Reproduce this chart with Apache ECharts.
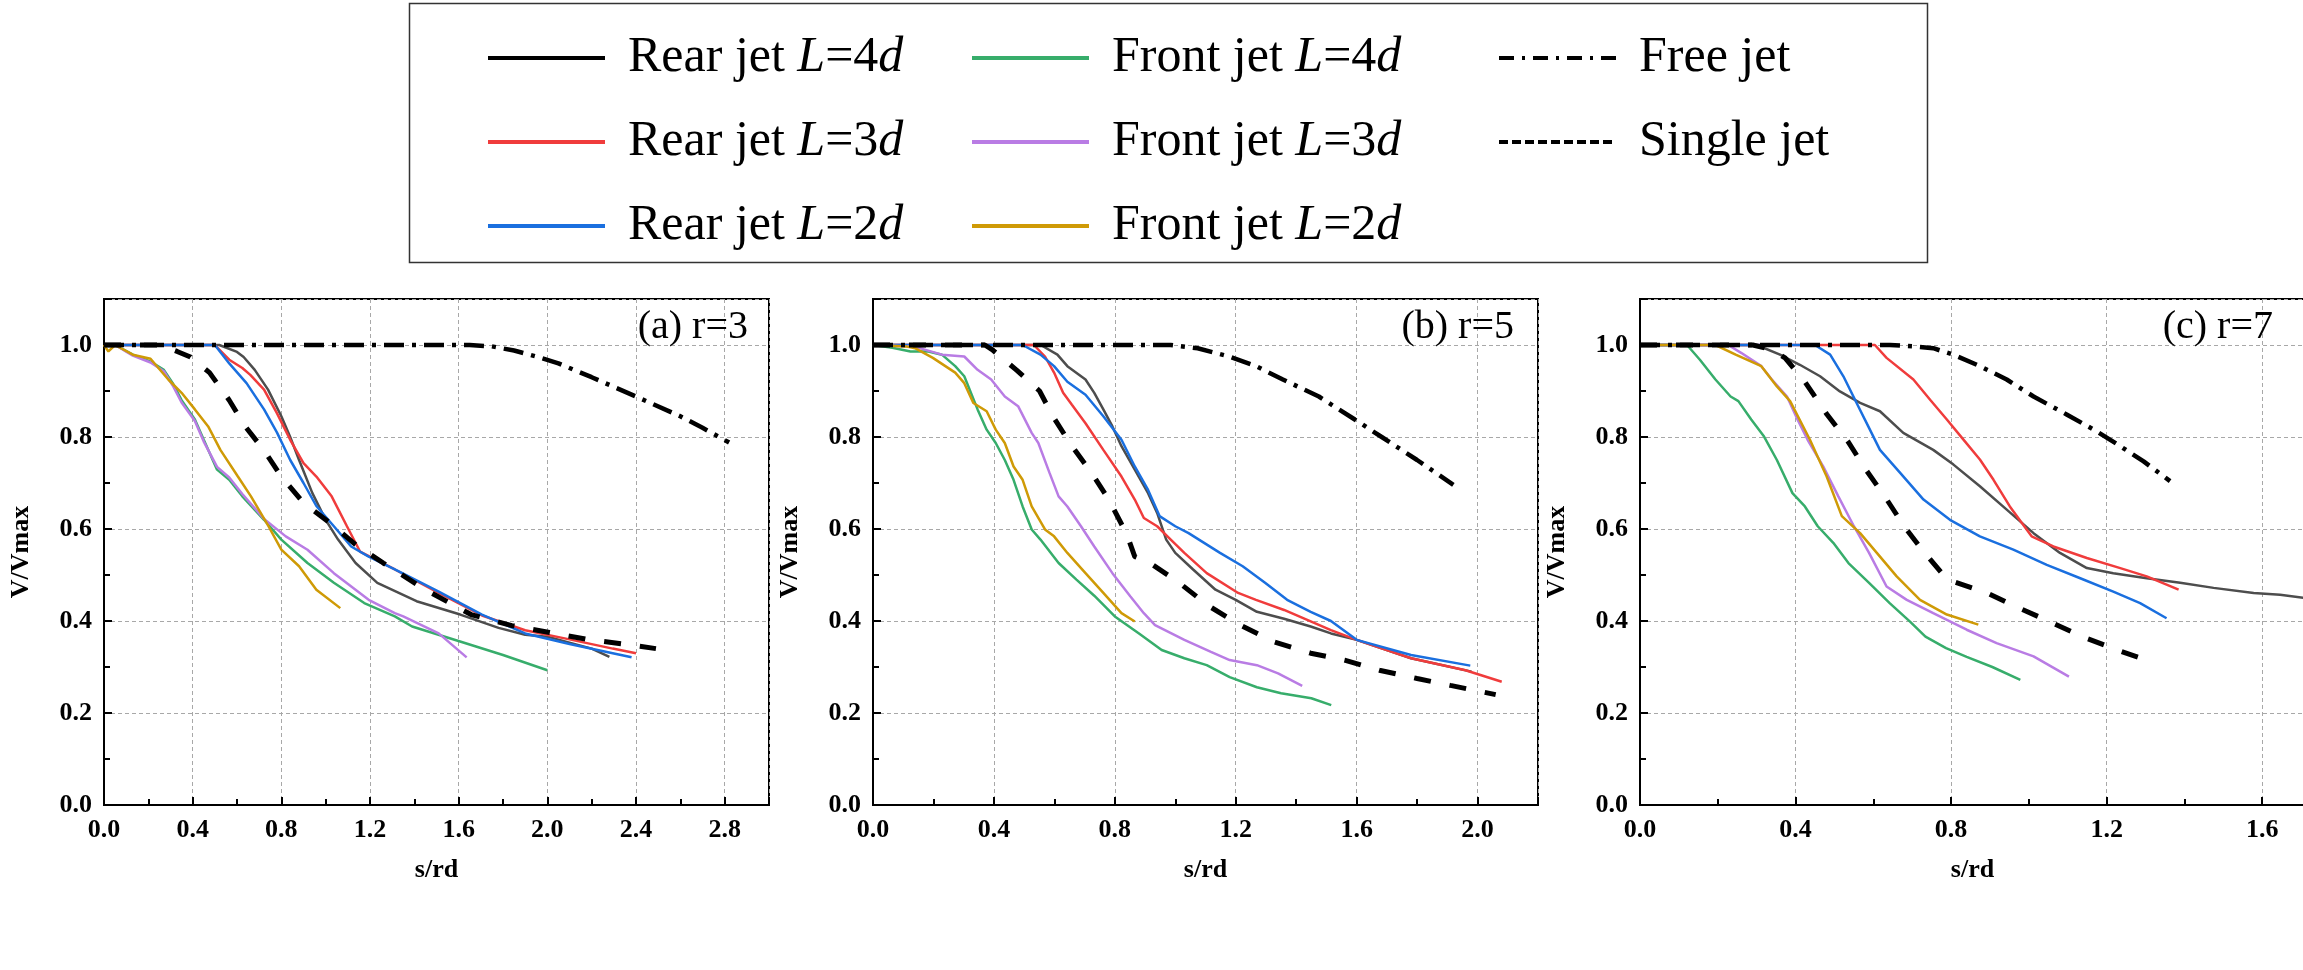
<!DOCTYPE html>
<html><head><meta charset="utf-8">
<script src="https://cdn.jsdelivr.net/npm/echarts@6/dist/echarts.min.js"></script>
<style>html,body{margin:0;padding:0;background:#fff}#c{width:2303px;height:970px}</style>
</head><body><div id="c"></div><script>
// ---- names / labels ----
const seriesNames = ['Rear jet L=4d','Rear jet L=3d','Rear jet L=2d','Front jet L=4d','Front jet L=3d','Front jet L=2d','Free jet','Single jet'];
const panelTitles = ['(a) r=3','(b) r=5','(c) r=7'];
const xMaxes = [3.0, 2.2, 1.71];
const xAxisTitle = 's/rd';
const yAxisTitle = 'V/Vmax';

// ---- panel (a) r=3 ----
const a_rear4 = [[0,1],[0.52,1],[0.6,0.985],[0.63,0.974],[0.68,0.946],[0.74,0.903],[0.80,0.845],[0.84,0.80],[0.88,0.75],[0.94,0.678],[1.0,0.62],[1.056,0.577],[1.135,0.526],[1.233,0.483],[1.41,0.443],[1.607,0.414],[1.78,0.385],[1.90,0.37],[2.0,0.366],[2.2,0.34],[2.28,0.322]];
const a_rear3 = [[0,1],[0.5,1],[0.565,0.968],[0.624,0.95],[0.66,0.935],[0.722,0.903],[0.78,0.852],[0.84,0.794],[0.90,0.743],[0.958,0.714],[1.027,0.671],[1.096,0.606],[1.155,0.551],[1.312,0.512],[1.51,0.461],[1.705,0.412],[1.90,0.38],[2.10,0.36],[2.295,0.34],[2.40,0.33]];
const a_rear2 = [[0,1],[0.5,1],[0.565,0.96],[0.643,0.917],[0.722,0.86],[0.78,0.81],[0.84,0.75],[0.90,0.70],[0.958,0.65],[1.037,0.606],[1.115,0.562],[1.194,0.54],[1.312,0.512],[1.51,0.464],[1.705,0.414],[1.90,0.373],[2.10,0.35],[2.295,0.33],[2.38,0.321]];
const a_front4 = [[0,1],[0.05,1],[0.13,0.979],[0.21,0.964],[0.27,0.946],[0.31,0.917],[0.35,0.88],[0.41,0.838],[0.45,0.794],[0.51,0.729],[0.565,0.707],[0.624,0.671],[0.722,0.62],[0.80,0.577],[0.918,0.526],[1.037,0.483],[1.174,0.439],[1.312,0.41],[1.39,0.388],[1.61,0.355],[1.80,0.326],[2.0,0.293]];
const a_front3 = [[0,1],[0.05,1],[0.13,0.977],[0.21,0.962],[0.27,0.943],[0.31,0.912],[0.35,0.875],[0.41,0.835],[0.45,0.79],[0.51,0.735],[0.565,0.712],[0.624,0.676],[0.722,0.622],[0.82,0.584],[0.918,0.555],[1.037,0.504],[1.194,0.446],[1.312,0.417],[1.35,0.41],[1.51,0.373],[1.636,0.321]];
const a_front2 = [[0,1],[0.02,0.986],[0.05,1],[0.13,0.979],[0.21,0.97],[0.29,0.925],[0.35,0.896],[0.41,0.86],[0.47,0.823],[0.525,0.772],[0.604,0.714],[0.663,0.671],[0.742,0.606],[0.80,0.555],[0.88,0.519],[0.958,0.468],[1.066,0.428]];
const a_free = [[0,1],[1.65,1],[1.75,0.997],[1.85,0.988],[1.95,0.975],[2.05,0.96],[2.2,0.93],[2.4,0.888],[2.6,0.845],[2.7,0.82],[2.82,0.788]];
const a_single = [[0,1],[0.25,1],[0.33,0.986],[0.39,0.974],[0.476,0.94],[0.565,0.88],[0.637,0.823],[0.72,0.772],[0.80,0.714],[0.90,0.657],[1.02,0.613],[1.135,0.566],[1.26,0.526],[1.45,0.468],[1.656,0.414],[1.84,0.39],[2.01,0.375],[2.18,0.36],[2.345,0.35],[2.49,0.34]];

// ---- panel (b) r=5 ----
const b_rear4 = [[0,1],[0.555,1],[0.61,0.979],[0.643,0.954],[0.703,0.925],[0.732,0.896],[0.762,0.86],[0.792,0.823],[0.822,0.78],[0.866,0.729],[0.91,0.678],[0.94,0.635],[0.97,0.577],[1.0,0.548],[1.059,0.512],[1.133,0.468],[1.2,0.446],[1.27,0.42],[1.36,0.405],[1.448,0.388],[1.515,0.373],[1.6,0.359],[1.78,0.319],[1.98,0.29]];
const b_rear3 = [[0,1],[0.532,1],[0.569,0.975],[0.599,0.94],[0.629,0.896],[0.658,0.87],[0.703,0.83],[0.762,0.772],[0.822,0.714],[0.866,0.664],[0.896,0.624],[0.94,0.606],[0.985,0.577],[1.03,0.548],[1.104,0.504],[1.208,0.461],[1.267,0.446],[1.36,0.424],[1.515,0.38],[1.6,0.359],[1.78,0.319],[1.96,0.293],[2.08,0.268]];
const b_rear2 = [[0,1],[0.495,1],[0.554,0.979],[0.599,0.954],[0.643,0.92],[0.703,0.892],[0.762,0.845],[0.822,0.794],[0.866,0.736],[0.91,0.685],[0.948,0.628],[1.0,0.606],[1.044,0.591],[1.148,0.548],[1.223,0.519],[1.297,0.483],[1.37,0.446],[1.448,0.42],[1.515,0.40],[1.6,0.359],[1.78,0.326],[1.976,0.303]];
const b_front4 = [[0,1],[0.064,0.994],[0.124,0.986],[0.183,0.986],[0.228,0.979],[0.272,0.954],[0.302,0.932],[0.346,0.86],[0.376,0.816],[0.406,0.787],[0.436,0.75],[0.465,0.707],[0.495,0.649],[0.525,0.599],[0.554,0.577],[0.614,0.526],[0.673,0.49],[0.732,0.455],[0.80,0.41],[0.88,0.373],[0.955,0.337],[1.03,0.319],[1.104,0.304],[1.18,0.278],[1.27,0.256],[1.35,0.243],[1.45,0.232],[1.516,0.217]];
const b_front3 = [[0,1],[0.14,0.996],[0.228,0.979],[0.302,0.975],[0.346,0.946],[0.391,0.925],[0.436,0.888],[0.48,0.867],[0.525,0.809],[0.547,0.787],[0.584,0.722],[0.614,0.671],[0.643,0.649],[0.688,0.606],[0.732,0.562],[0.792,0.504],[0.851,0.454],[0.896,0.417],[0.933,0.391],[1.03,0.359],[1.118,0.333],[1.18,0.315],[1.27,0.304],[1.34,0.286],[1.42,0.259]];
const b_front2 = [[0,1],[0.109,0.997],[0.139,0.993],[0.198,0.972],[0.272,0.94],[0.302,0.917],[0.332,0.874],[0.376,0.856],[0.406,0.816],[0.436,0.787],[0.465,0.736],[0.495,0.707],[0.525,0.649],[0.569,0.599],[0.599,0.584],[0.643,0.548],[0.703,0.504],[0.762,0.461],[0.822,0.417],[0.866,0.399]];
const b_free = [[0,1],[0.985,1],[1.074,0.993],[1.178,0.975],[1.267,0.954],[1.356,0.925],[1.475,0.888],[1.594,0.838],[1.683,0.80],[1.80,0.75],[1.92,0.696]];
const b_single = [[0,1],[0.37,1],[0.394,0.99],[0.476,0.945],[0.551,0.90],[0.595,0.845],[0.655,0.783],[0.725,0.72],[0.78,0.664],[0.84,0.588],[0.866,0.54],[0.907,0.53],[1.007,0.486],[1.11,0.433],[1.21,0.393],[1.325,0.355],[1.448,0.33],[1.56,0.315],[1.675,0.293],[1.8,0.275],[1.91,0.26],[2.06,0.24]];

// ---- panel (c) r=7 ----
const c_rear4 = [[0,1],[0.30,1],[0.36,0.979],[0.411,0.957],[0.463,0.932],[0.514,0.899],[0.566,0.874],[0.617,0.856],[0.677,0.809],[0.754,0.772],[0.806,0.74],[0.874,0.693],[0.943,0.642],[1.012,0.591],[1.08,0.548],[1.149,0.515],[1.217,0.504],[1.303,0.493],[1.389,0.483],[1.475,0.472],[1.578,0.461],[1.646,0.457],[1.71,0.45]];
const c_rear3 = [[0,1],[0.604,1],[0.634,0.972],[0.703,0.925],[0.746,0.881],[0.789,0.838],[0.828,0.798],[0.874,0.751],[0.909,0.707],[0.951,0.649],[0.982,0.613],[1.007,0.584],[1.063,0.562],[1.149,0.537],[1.235,0.515],[1.303,0.497],[1.385,0.468]];
const c_rear2 = [[0,1],[0.45,1],[0.489,0.979],[0.523,0.932],[0.557,0.874],[0.587,0.823],[0.617,0.772],[0.669,0.722],[0.729,0.664],[0.797,0.62],[0.874,0.584],[0.96,0.555],[1.046,0.522],[1.132,0.493],[1.217,0.464],[1.286,0.439],[1.354,0.406]];
const c_front4 = [[0,1],[0.121,1],[0.154,0.968],[0.194,0.925],[0.233,0.888],[0.253,0.878],[0.286,0.838],[0.319,0.801],[0.352,0.75],[0.392,0.678],[0.424,0.649],[0.457,0.606],[0.497,0.57],[0.536,0.526],[0.589,0.483],[0.642,0.439],[0.695,0.398],[0.734,0.366],[0.787,0.341],[0.84,0.322],[0.906,0.30],[0.978,0.272]];
const c_front3 = [[0,1],[0.227,1],[0.26,0.983],[0.312,0.954],[0.339,0.925],[0.378,0.888],[0.405,0.838],[0.431,0.794],[0.471,0.736],[0.51,0.671],[0.55,0.606],[0.589,0.548],[0.634,0.475],[0.686,0.446],[0.754,0.417],[0.84,0.381],[0.917,0.352],[1.012,0.323],[1.103,0.279]];
const c_front2 = [[0,1],[0.194,1],[0.246,0.979],[0.312,0.954],[0.352,0.91],[0.386,0.878],[0.437,0.794],[0.48,0.714],[0.519,0.628],[0.566,0.591],[0.609,0.548],[0.66,0.497],[0.72,0.446],[0.789,0.414],[0.87,0.392]];
const c_free = [[0,1],[0.643,1],[0.703,0.997],[0.754,0.993],[0.806,0.979],[0.874,0.954],[0.943,0.925],[1.012,0.888],[1.097,0.849],[1.175,0.812],[1.235,0.78],[1.295,0.747],[1.363,0.704]];
const c_single = [[0,1],[0.29,1],[0.339,0.99],[0.373,0.972],[0.424,0.92],[0.48,0.85],[0.535,0.79],[0.58,0.73],[0.63,0.67],[0.68,0.605],[0.73,0.55],[0.79,0.49],[0.89,0.462],[0.97,0.43],[1.05,0.40],[1.14,0.365],[1.23,0.336],[1.32,0.31]];

const panelData = [
  [a_rear4,a_rear3,a_rear2,a_front4,a_front3,a_front2,a_free,a_single],
  [b_rear4,b_rear3,b_rear2,b_front4,b_front3,b_front2,b_free,b_single],
  [c_rear4,c_rear3,c_rear2,c_front4,c_front3,c_front2,c_free,c_single]
];

// ---- styles ----
const F = '"Liberation Serif","Times New Roman",serif';
const colors = ['#4D4D4D','#F03C3C','#1A6FDF','#37AD6B','#B97CE4','#CF9A06','#000','#000'];
const lineTypes = ['solid','solid','solid','solid','solid','solid',[20,8,4,8],[17,19]];
const lineWidths = [2.5,2.5,2.5,2.5,2.5,2.5,4.5,5];
const gridLefts = [104, 873, 1640];
const gridTop = 299, gridH = 506, gridW = 665;

const grids = [], xAxes = [], yAxes = [], series = [];
for (let p = 0; p < 3; p++) {
  grids.push({left: gridLefts[p], top: gridTop, width: gridW, height: gridH, show: true,
    borderColor: '#000', borderWidth: 2, backgroundColor: 'transparent', containLabel: false, outerBoundsMode: 'none'});
  const common = {
    gridIndex: p, type: 'value', min: 0, nameLocation: 'middle',
    nameTextStyle: {fontFamily: F, fontWeight: 'bold', fontSize: 26, color: '#000'},
    axisLine: {show: true, onZero: false, lineStyle: {color: '#000', width: 2}},
    axisTick: {show: true, inside: true, length: 8, lineStyle: {color: '#000', width: 2}},
    minorTick: {show: true, splitNumber: 2, length: 6, lineStyle: {color: '#000', width: 2}},
    axisLabel: {fontFamily: F, fontWeight: 'bold', fontSize: 26, color: '#000', margin: 12,
      showMaxLabel: false, formatter: v => v.toFixed(1)},
    splitLine: {show: true, lineStyle: {color: '#a8a8a8', type: [4, 3], width: 1}},
    minorSplitLine: {show: false}
  };
  xAxes.push(Object.assign({}, common, {max: xMaxes[p], interval: 0.4, name: xAxisTitle, nameGap: 52, position: 'bottom'}));
  yAxes.push(Object.assign({}, common, {max: 1.1, interval: 0.2, name: yAxisTitle, nameGap: 70, position: 'left'}));
  for (let s = 0; s < 8; s++) {
    series.push({
      name: seriesNames[s], type: 'line', xAxisIndex: p, yAxisIndex: p,
      data: panelData[p][s], symbol: 'none', showSymbol: false, smooth: false,
      color: colors[s],
      lineStyle: {color: colors[s], width: lineWidths[s], type: lineTypes[s]},
      emphasis: {disabled: true}, z: s >= 6 ? 3 : 2
    });
  }
}

const legendText = {
  fontFamily: F, fontSize: 50, color: '#000', lineHeight: 52, padding: [0, 0, 0, 18],
  rich: {i: {fontFamily: F, fontSize: 50, fontStyle: 'italic', color: '#000', lineHeight: 52}}
};
const fmt = n => n.replace('L=', '{i|L}=').replace(/(\d)d$/, '$1{i|d}');
const legendBase = {orient: 'vertical', top: 32, padding: 0, itemWidth: 117, itemHeight: 14, itemGap: 32,
  formatter: fmt, textStyle: legendText, selectedMode: false,
  itemStyle: {opacity: 0, borderWidth: 0},
  lineStyle: {width: 4}};

const option = {
  animation: false,
  backgroundColor: '#fff',
  grid: grids, xAxis: xAxes, yAxis: yAxes, series: series,
  legend: [
    Object.assign({}, legendBase, {left: 486, data: [
      {name: seriesNames[0], lineStyle: {color: '#000', width: 4}},
      seriesNames[1], seriesNames[2]]}),
    Object.assign({}, legendBase, {left: 970, data: [seriesNames[3], seriesNames[4], seriesNames[5]]}),
    Object.assign({}, legendBase, {left: 1497, data: [
      {name: seriesNames[6], lineStyle: {type: [15, 8, 3, 8], width: 4}},
      {name: seriesNames[7], lineStyle: {type: [9, 4], width: 4}}]})
  ],
  graphic: [
    {type: 'rect', left: 407, top: 1, shape: {width: 1518, height: 259},
      style: {fill: 'none', stroke: '#333', lineWidth: 1.5}, z: 0, silent: true},
    {type: 'text', x: 748, y: 327, style: {text: panelTitles[0], fontFamily: F, fontSize: 40, fill: '#000', align: 'right', verticalAlign: 'middle'}, z: 10},
    {type: 'text', x: 1514, y: 327, style: {text: panelTitles[1], fontFamily: F, fontSize: 40, fill: '#000', align: 'right', verticalAlign: 'middle'}, z: 10},
    {type: 'text', x: 2273, y: 327, style: {text: panelTitles[2], fontFamily: F, fontSize: 40, fill: '#000', align: 'right', verticalAlign: 'middle'}, z: 10}
  ]
};
const chart = echarts.init(document.getElementById('c'), null, {renderer: 'canvas'});
chart.setOption(option);
</script></body></html>
